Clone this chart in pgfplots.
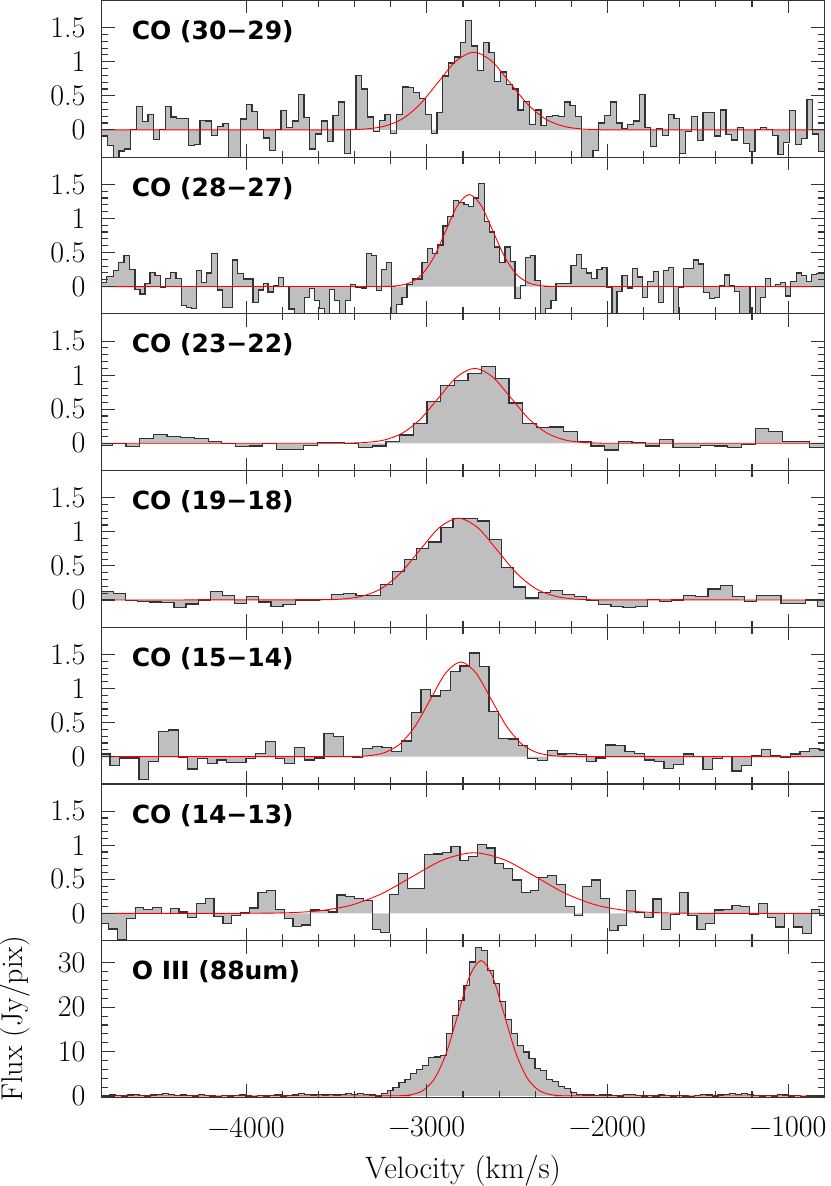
\documentclass[border=0pt]{standalone}
\usepackage{fontspec}
\usepackage{pgfplots}
\usepackage{pgfplotstable}
\pgfplotsset{compat=1.18}
\newfontfamily\lblfont{DejaVu Sans}
\definecolor{histfill}{gray}{0.75}
\definecolor{frame}{gray}{0.2}

\pgfplotsset{
 panel/.style={
  scale only axis, width=722.6pt, height=156.7pt,
  xmin=-4800, xmax=-800,
  xtick={-4000,-3000,-2000,-1000}, minor x tick num=4,
  scaled x ticks=false, scaled y ticks=false,
  /pgf/number format/assume math mode=true,
  tick align=inside, tick pos=both,
  major tick length=13pt, minor tick length=6.5pt,
  axis line style={line width=1.2pt, draw=frame},
  tick style={line width=1.1pt, draw=frame},
  tick label style={font=\fontsize{30}{33}\selectfont},
  yticklabel style={inner sep=0pt, xshift=-16pt},
  xticklabel style={inner sep=0pt, anchor=north, yshift=-19.5pt},
  axis on top,
  anchor=north west,
 },
 copanel/.style={panel, ymin=-0.4, ymax=1.9, ytick={0,0.5,1,1.5}, yticklabels={0,0.5,1,1.5}, minor y tick num=4, xticklabels={}},
 hfill/.style={const plot, fill=histfill, draw=none, forget plot},
 hline/.style={const plot, draw=black!80, line width=1.2pt, forget plot},
 fit/.style={smooth, red, line width=0.9pt, forget plot},
}
\newcommand\plab[1]{\node[anchor=base west, inner sep=0pt, font=\lblfont\bfseries\fontsize{25}{28}\selectfont] at (rel axis cs:0.0415,0.75) {#1};}

\pgfplotstableread{
x y
-4800 -0.09
-4768 -0.23
-4736 -0.45
-4704 -0.31
-4672 -0.28
-4640 0.0
-4608 0.34
-4576 0.12
-4544 0.22
-4512 -0.14
-4480 0.0
-4448 0.34
-4416 0.19
-4384 0.17
-4352 0.165
-4320 -0.23
-4288 -0.21
-4256 0.14
-4224 0.13
-4192 -0.08
-4160 0.05
-4128 0.09
-4096 -0.45
-4064 -0.45
-4032 0.16
-4000 0.37
-3968 0.27
-3936 0.01
-3904 -0.12
-3872 -0.30
-3840 0.0
-3808 0.28
-3776 0.04
-3744 0.13
-3712 0.52
-3680 0.18
-3648 -0.28
-3616 -0.06
-3584 0.13
-3552 -0.17
-3520 0.21
-3488 0.41
-3456 -0.35
-3424 0.0
-3392 0.80
-3360 0.60
-3328 0.19
-3296 -0.03
-3264 0.14
-3232 0.22
-3200 -0.05
-3168 0.23
-3136 0.63
-3104 0.62
-3072 0.55
-3040 0.46
-3008 0.23
-2976 -0.05
-2944 0.25
-2912 0.79
-2880 0.98
-2848 1.07
-2816 1.28
-2784 1.61
-2752 1.23
-2720 0.87
-2688 1.28
-2656 1.14
-2624 0.71
-2592 0.85
-2560 0.67
-2528 0.60
-2496 0.29
-2464 0.42
-2432 0.08
-2400 0.29
-2368 0.06
-2336 0.20
-2304 0.21
-2272 0.20
-2240 0.41
-2208 0.36
-2176 0.20
-2144 -0.45
-2112 -0.45
-2080 -0.30
-2048 0.10
-2016 0.21
-1984 0.41
-1952 0.10
-1920 0.02
-1888 0.08
-1856 0.13
-1824 0.52
-1792 0.04
-1760 -0.25
-1728 0.02
-1696 -0.08
-1664 0.22
-1632 0.17
-1600 -0.35
-1568 -0.02
-1536 0.20
-1504 -0.16
-1472 0.25
-1440 0.25
-1408 -0.09
-1376 0.29
-1344 -0.07
-1312 -0.15
-1280 0.04
-1248 -0.20
-1216 -0.32
-1184 0.01
-1152 0.04
-1120 0.0
-1088 -0.08
-1056 -0.36
-1024 -0.19
-992 0.28
-960 -0.22
-928 -0.13
-896 0.45
-864 -0.06
-832 -0.32
-800 -0.32
}\dA

\pgfplotstableread{
x y
-4800 0.06
-4772 0.15
-4736 0.23
-4708 0.35
-4677 0.45
-4647 0.25
-4616 -0.04
-4588 -0.11
-4560 0.04
-4533 0.21
-4505 0.16
-4474 -0.01
-4446 0.12
-4417 0.21
-4389 0.12
-4358 -0.28
-4330 -0.31
-4302 -0.32
-4275 0.24
-4247 0.06
-4220 0.20
-4192 0.48
-4161 -0.05
-4131 -0.31
-4076 0.39
-4048 0.19
-4017 0.11
-3962 -0.23
-3934 -0.05
-3906 0.04
-3879 -0.08
-3851 0.01
-3823 0.13
-3792 0.0
-3763 -0.33
-3731 -0.45
-3676 -0.16
-3648 -0.03
-3621 -0.21
-3593 -0.32
-3565 -0.45
-3538 -0.04
-3510 -0.21
-3482 -0.45
-3451 -0.21
-3423 0.03
-3394 -0.01
-3363 -0.02
-3335 0.48
-3307 0.45
-3280 -0.06
-3252 0.25
-3224 0.35
-3197 -0.45
-3169 -0.26
-3138 -0.16
-3110 0.03
-3081 0.11
-3027 0.35
-2998 0.56
-2967 0.48
-2939 0.61
-2911 0.89
-2884 1.03
-2851 1.26
-2823 1.23
-2795 1.20
-2768 1.17
-2740 1.30
-2712 1.51
-2681 0.95
-2653 0.80
-2626 0.58
-2598 0.35
-2567 0.58
-2539 0.37
-2512 -0.17
-2482 0.02
-2454 0.43
-2427 0.46
-2401 0.09
-2371 -0.45
-2344 -0.32
-2313 -0.20
-2285 0.04
-2230 0.05
-2202 0.31
-2171 0.47
-2143 0.27
-2115 0.20
-2088 0.12
-2058 0.25
-2031 0.28
-2003 -0.01
-1975 -0.45
-1948 -0.07
-1920 0.16
-1889 -0.02
-1861 0.26
-1833 0.14
-1806 -0.16
-1778 0.07
-1747 0.22
-1719 -0.23
-1692 0.23
-1664 0.28
-1636 -0.45
-1607 -0.01
-1579 0.26
-1552 0.26
-1524 0.39
-1496 0.33
-1469 -0.09
-1437 -0.18
-1410 -0.16
-1382 0.02
-1354 0.17
-1327 0.02
-1295 -0.07
-1268 -0.45
-1211 0.0
-1183 -0.45
-1155 -0.16
-1124 0.12
-1096 0.0
-1069 0.03
-1041 0.06
-1013 -0.14
-986 0.08
-954 0.20
-927 0.16
-899 0.07
-872 0.18
-842 0.19
-800 0.19
}\dB

\pgfplotstableread{
x y
-4816 -0.03
-4740 0.0
-4665 -0.05
-4589 0.07
-4513 0.13
-4438 0.10
-4362 0.08
-4286 0.07
-4211 0.03
-4135 0.0
-4059 -0.05
-3983 -0.04
-3908 0.0
-3832 -0.09
-3756 -0.09
-3681 -0.03
-3605 0.01
-3529 0.01
-3454 0.0
-3378 -0.06
-3302 -0.04
-3226 0.03
-3151 0.12
-3075 0.29
-2999 0.61
-2924 0.85
-2848 0.92
-2772 1.02
-2697 1.13
-2621 0.95
-2545 0.59
-2469 0.29
-2394 0.23
-2318 0.24
-2242 0.17
-2167 0.02
-2091 -0.04
-2015 -0.10
-1940 0.02
-1864 0.01
-1788 -0.04
-1712 0.06
-1637 -0.06
-1561 -0.06
-1485 -0.03
-1410 -0.04
-1334 -0.06
-1258 -0.02
-1183 0.22
-1107 0.17
-1031 0.03
-955 0.03
-880 -0.06
-800 -0.06
}\dC

\pgfplotstableread{
x y
-4804 0.12
-4736 0.09
-4669 -0.01
-4602 -0.02
-4535 -0.03
-4468 -0.04
-4400 -0.11
-4333 -0.06
-4266 0.0
-4199 0.12
-4132 0.07
-4064 -0.05
-3997 0.05
-3930 -0.03
-3863 -0.10
-3796 -0.07
-3728 0.0
-3661 0.0
-3594 0.01
-3527 0.08
-3460 0.10
-3392 0.06
-3325 0.07
-3258 0.23
-3191 0.42
-3124 0.59
-3056 0.75
-2989 0.85
-2922 1.06
-2855 1.20
-2788 1.20
-2720 1.16
-2653 0.89
-2586 0.48
-2519 0.19
-2452 0.03
-2384 0.11
-2317 0.14
-2250 0.08
-2183 0.05
-2116 -0.01
-2048 -0.07
-1981 -0.10
-1914 -0.11
-1847 -0.10
-1780 0.01
-1712 -0.02
-1645 0.0
-1578 0.06
-1511 0.05
-1444 0.16
-1376 0.21
-1309 0.05
-1242 -0.02
-1175 0.07
-1108 0.07
-1040 -0.05
-973 -0.05
-906 0.0
-839 -0.10
-800 -0.10
}\dD

\pgfplotstableread{
x y
-4808 0.04
-4754 -0.13
-4700 -0.02
-4646 -0.02
-4593 -0.33
-4539 -0.07
-4485 0.37
-4431 0.39
-4377 -0.01
-4324 -0.18
-4270 -0.03
-4216 -0.10
-4162 -0.05
-4108 -0.08
-4055 -0.09
-4001 -0.03
-3947 0.05
-3893 0.22
-3839 -0.03
-3786 -0.10
-3732 0.13
-3678 -0.05
-3624 -0.02
-3570 0.34
-3517 0.29
-3463 0.0
-3409 -0.01
-3355 0.12
-3301 0.15
-3248 0.13
-3194 0.08
-3140 0.23
-3086 0.65
-3032 0.99
-2979 0.89
-2925 0.97
-2871 1.25
-2817 1.33
-2763 1.52
-2710 1.32
-2656 0.66
-2602 0.27
-2548 0.26
-2494 0.16
-2441 -0.03
-2387 -0.06
-2333 0.09
-2279 0.04
-2225 0.05
-2172 0.03
-2118 -0.07
-2064 -0.02
-2010 0.17
-1956 0.16
-1903 0.08
-1849 0.05
-1795 -0.05
-1741 -0.07
-1687 -0.17
-1634 -0.12
-1580 0.04
-1526 0.0
-1472 -0.19
-1418 -0.03
-1365 0.0
-1311 -0.21
-1257 -0.13
-1203 0.01
-1149 0.10
-1096 0.02
-1042 -0.01
-988 0.04
-934 0.08
-880 0.12
-827 0.09
-800 0.09
}\dE

\pgfplotstableread{
x y
-4810 -0.15
-4761 -0.23
-4713 -0.38
-4664 -0.07
-4615 0.09
-4567 0.06
-4518 0.09
-4470 0.0
-4421 0.07
-4372 0.02
-4324 -0.06
-4275 0.14
-4227 0.22
-4178 -0.05
-4129 -0.15
-4081 -0.03
-4032 0.01
-3984 0.08
-3935 0.31
-3886 0.33
-3838 0.06
-3789 -0.08
-3741 -0.19
-3692 -0.17
-3643 0.05
-3595 0.04
-3546 0.02
-3498 0.27
-3449 0.25
-3400 0.22
-3352 0.19
-3303 -0.24
-3255 -0.28
-3206 0.28
-3157 0.59
-3109 0.36
-3060 0.36
-3012 0.86
-2963 0.87
-2914 0.89
-2866 0.98
-2817 0.77
-2769 0.83
-2720 1.01
-2671 0.96
-2623 0.73
-2574 0.66
-2526 0.49
-2477 0.31
-2428 0.34
-2380 0.53
-2331 0.55
-2283 0.42
-2234 0.10
-2185 -0.03
-2137 0.39
-2088 0.49
-2040 0.22
-1991 -0.25
-1942 -0.18
-1894 0.33
-1845 0.01
-1797 -0.06
-1748 0.21
-1699 -0.24
-1651 -0.02
-1602 0.31
-1554 -0.03
-1505 -0.24
-1456 -0.15
-1408 0.05
-1359 0.06
-1311 0.12
-1262 0.10
-1213 -0.02
-1165 0.15
-1116 -0.06
-1068 -0.20
-1019 0.0
-970 -0.20
-922 -0.30
-873 0.06
-825 -0.03
-800 -0.03
}\dF

\pgfplotstableread{
x y
-4822 0.1
-4789 0.0
-4756 0.2
-4724 0.1
-4691 0.0
-4658 0.2
-4626 0.3
-4593 0.1
-4560 0.0
-4528 0.2
-4495 0.4
-4462 0.5
-4429 0.3
-4397 0.1
-4364 0.2
-4331 0.1
-4299 0.0
-4266 0.3
-4233 0.1
-4201 0.0
-4168 -0.1
-4135 0.1
-4102 0.0
-4070 0.1
-4037 0.2
-4004 0.0
-3972 -0.1
-3939 0.1
-3906 0.0
-3874 0.1
-3841 0.2
-3808 0.0
-3775 0.1
-3743 0.2
-3710 0.5
-3677 0.4
-3645 0.2
-3612 0.3
-3579 0.2
-3547 0.3
-3514 0.2
-3481 0.4
-3448 0.5
-3416 0.3
-3383 0.5
-3350 0.4
-3318 0.2
-3285 0.0
-3252 0.5
-3220 1.3
-3187 2.0
-3154 3.0
-3121 3.8
-3089 5.0
-3056 5.9
-3023 6.8
-2991 8.6
-2958 8.8
-2925 9.2
-2893 14.0
-2860 18.2
-2827 21.5
-2794 24.8
-2762 30.2
-2729 33.5
-2696 32.8
-2664 28.3
-2631 25.4
-2598 21.2
-2566 17.2
-2533 14.0
-2500 11.4
-2467 9.9
-2435 8.4
-2402 6.2
-2369 5.8
-2337 3.8
-2304 3.2
-2271 2.2
-2239 1.6
-2206 0.8
-2173 0.4
-2140 0.2
-2108 0.2
-2075 0.1
-2042 0.2
-2010 0.2
-1977 0.1
-1944 0.0
-1912 0.3
-1879 0.3
-1846 0.1
-1813 0.0
-1781 0.1
-1748 0.0
-1715 0.2
-1683 0.1
-1650 0.0
-1617 0.1
-1585 0.0
-1552 -0.1
-1519 0.1
-1486 0.3
-1454 0.2
-1421 0.0
-1388 0.2
-1356 0.4
-1323 0.5
-1290 0.3
-1258 0.5
-1225 0.3
-1192 0.1
-1159 0.0
-1127 0.1
-1094 0.0
-1061 0.3
-1029 0.2
-996 0.0
-963 0.1
-931 -0.1
-898 0.0
-865 0.1
-832 0.0
-800 0.0
}\dG

\begin{document}
\begin{tikzpicture}
% panel 1
\begin{axis}[copanel, at={(0pt,0pt)}]
\addplot[hfill] table {\dA} \closedcycle;
\addplot[hline] table {\dA};
\addplot[fit] coordinates {(-4800,0) (-3540,0.0003) (-3440,0.0025) (-3340,0.0127) (-3240,0.050) (-3140,0.154) (-3040,0.370) (-2940,0.691) (-2840,1.006) (-2740,1.140) (-2640,1.006) (-2540,0.691) (-2440,0.370) (-2340,0.154) (-2240,0.050) (-2140,0.0127) (-2040,0.0025) (-1940,0.0003) (-800,0)};
\plab{CO (30−29)}
\end{axis}
% panel 2
\begin{axis}[copanel, at={(0pt,-156.7pt)}]
\addplot[hfill] table {\dB} \closedcycle;
\addplot[hline] table {\dB};
\addplot[fit] coordinates {(-4800,0) (-3285,0.0004) (-3220,0.003) (-3155,0.015) (-3090,0.059) (-3025,0.183) (-2960,0.438) (-2895,0.819) (-2830,1.191) (-2765,1.350) (-2700,1.191) (-2635,0.819) (-2570,0.438) (-2505,0.183) (-2440,0.059) (-2375,0.015) (-2310,0.003) (-2245,0.0004) (-800,0)};
\plab{CO (28−27)}
\end{axis}
% panel 3
\begin{axis}[copanel, at={(0pt,-313.4pt)}]
\addplot[hfill] table {\dC} \closedcycle;
\addplot[hline] table {\dC};
\addplot[fit] coordinates {(-4800,0) (-3535,0.0003) (-3435,0.0024) (-3335,0.0122) (-3235,0.048) (-3135,0.149) (-3035,0.357) (-2935,0.667) (-2835,0.971) (-2735,1.100) (-2635,0.971) (-2535,0.667) (-2435,0.357) (-2335,0.149) (-2235,0.048) (-2135,0.0122) (-2035,0.0024) (-1935,0.0003) (-800,0)};
\plab{CO (23−22)}
\end{axis}
% panel 4
\begin{axis}[copanel, at={(0pt,-470.1pt)}]
\addplot[hfill] table {\dD} \closedcycle;
\addplot[hline] table {\dD};
\addplot[fit] coordinates {(-4800,0) (-3685,0.0004) (-3577.5,0.0026) (-3470,0.0133) (-3362.5,0.053) (-3255,0.162) (-3147.5,0.390) (-3040,0.728) (-2932.5,1.059) (-2825,1.200) (-2717.5,1.059) (-2610,0.728) (-2502.5,0.390) (-2395,0.162) (-2287.5,0.053) (-2180,0.0133) (-2072.5,0.0026) (-1965,0.0004) (-800,0)};
\plab{CO (19−18)}
\end{axis}
% panel 5
\begin{axis}[copanel, at={(0pt,-626.8pt)}]
\addplot[hfill] table {\dE} \closedcycle;
\addplot[hline] table {\dE};
\addplot[fit] coordinates {(-4800,0) (-3484,0.0004) (-3400,0.0031) (-3316,0.0154) (-3232,0.061) (-3148,0.188) (-3064,0.451) (-2980,0.843) (-2896,1.227) (-2812,1.390) (-2728,1.227) (-2644,0.843) (-2560,0.451) (-2476,0.188) (-2392,0.061) (-2308,0.0154) (-2224,0.0031) (-2140,0.0004) (-800,0)};
\plab{CO (15−14)}
\end{axis}
% panel 6
\begin{axis}[copanel, at={(0pt,-783.5pt)}]
\addplot[hfill] table {\dF} \closedcycle;
\addplot[hline] table {\dF};
\addplot[fit] coordinates {(-4800,0) (-4100,0.0003) (-3930,0.0020) (-3760,0.0099) (-3590,0.039) (-3420,0.120) (-3250,0.289) (-3080,0.540) (-2910,0.785) (-2740,0.890) (-2570,0.785) (-2400,0.540) (-2230,0.289) (-2060,0.120) (-1890,0.039) (-1720,0.0099) (-1550,0.0020) (-1380,0.0003) (-800,0)};
\plab{CO (14−13)}
\end{axis}
% panel 7
\begin{axis}[panel, at={(0pt,-940.2pt)},
  ymin=-0.3, ymax=35, ytick={0,10,20,30}, yticklabels={0,10,20,30}, minor y tick num=4,
  xticklabels={−4000,−3000,−2000,−1000},
  xlabel={Velocity (km/s)}, ylabel={Flux (Jy/pix)},
  xlabel style={at={(axis description cs:0.5,-0.517)}, anchor=base, inner sep=0pt, font=\fontsize{31}{34}\selectfont},
  ylabel style={at={(axis description cs:-0.1407,0.5)}, anchor=north, inner sep=0pt, font=\fontsize{30}{33}\selectfont}]
\addplot[hfill] table {\dG} \closedcycle;
\addplot[hline] table {\dG};
\addplot[fit] coordinates {(-4800,0) (-3208,0.009) (-3144.5,0.067) (-3081,0.339) (-3017.5,1.34) (-2954,4.13) (-2890.5,9.90) (-2827,18.50) (-2763.5,26.92) (-2700,30.5) (-2636.5,26.92) (-2573,18.50) (-2509.5,9.90) (-2446,4.13) (-2382.5,1.34) (-2319,0.339) (-2255.5,0.067) (-2192,0.009) (-800,0)};
\plab{O III (88um)}
\end{axis}
\pgfresetboundingbox
\path[use as bounding box] (-101.7pt,0.4pt) rectangle (728.3pt,-1185.6pt);
\end{tikzpicture}
\end{document}
